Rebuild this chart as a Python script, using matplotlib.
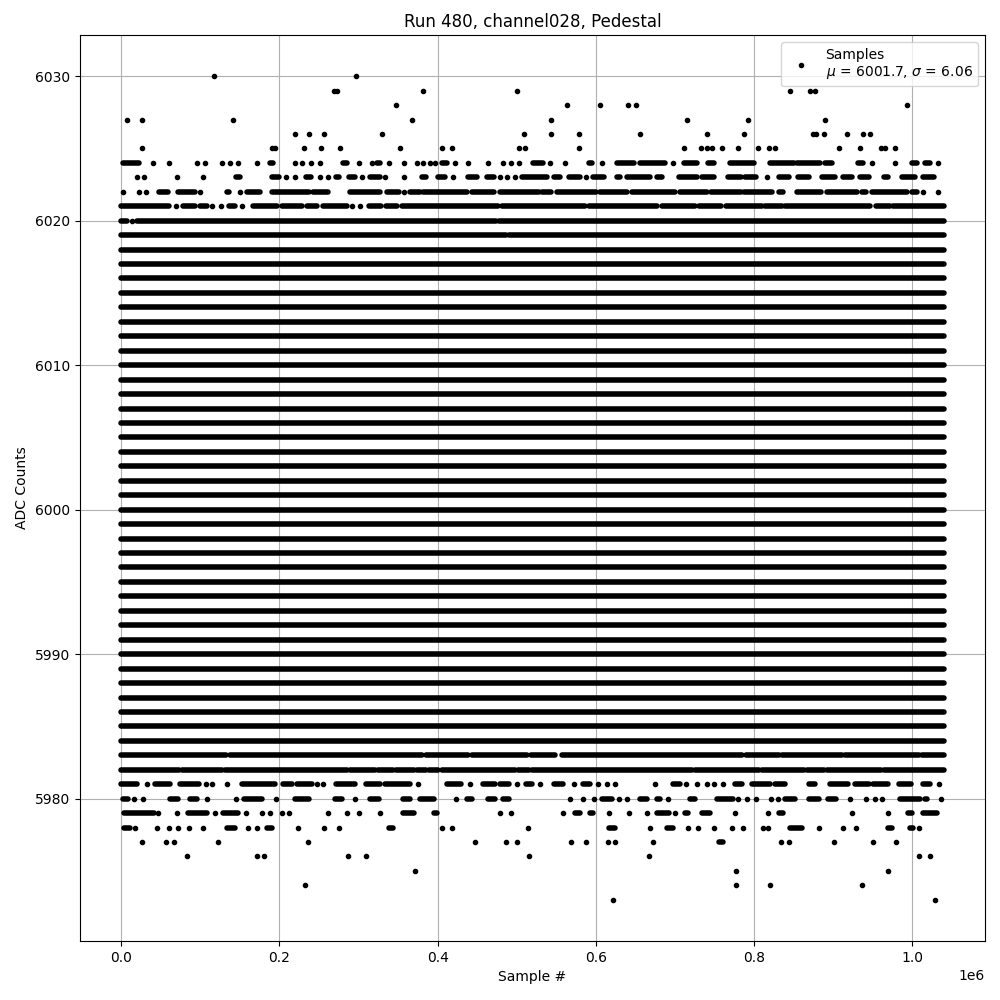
import matplotlib
matplotlib.use("Agg")
import matplotlib.pyplot as plt

# ---------------- data (sample positions in units of 1000 samples) ----------------
SAMPLE_SCALE = 1000
title = "Run 480, channel028, Pedestal"
legend_label = "Samples\n$\\mu$ = 6001.7, $\\sigma$ = 6.06"

# ADC levels that are filled over the whole run
full_levels = [5984, 5985, 5986, 5987, 5988, 5989, 5990, 5991, 5992, 5993, 5994,
               5995, 5996, 5997, 5998, 5999, 6000, 6001, 6002, 6003, 6004, 6005,
               6006, 6007, 6008, 6009, 6010, 6011, 6012, 6013, 6014, 6015, 6016,
               6017, 6018]
full_range = (0, 1040)

# partially filled levels: single samples (number) or dense runs (start, end)
lvl_6030 = [118, 297]
lvl_6029 = [269, 273, 382, 500, 845, 871, 877]
lvl_6028 = [348, 564, 605, 641, 651, 994]
lvl_6027 = [8, 27, 141, 368, 543, 715, 793, 890]
lvl_6026 = [220, 238, 256, 330, 509, 543, 579, 656, 741, 787, 875, 878, 888,
            918, 938, 946]
lvl_6025 = [26, 191, 195, 231, 253, 277, 353, 406, 418, 503, 510, 579, 711,
            733, 741, 747, 760, 780, 805, 819, 827, 907, 934, 960, 965, 978]
lvl_6024 = [(2, 22), 40, 61, 96, 106, 128, 138, 148, 172, (188, 192), 220, 229,
            240, 252, (280, 286), 301, 317, (323, 327), 338, 357, 374, 382, 391,
            397, (405, 412), 422, 438, 464, 483, 493, 503, (520, 533), 542, 561,
            (591, 595), 608, (627, 648), (656, 688), 697, (711, 728), (742, 750),
            (770, 800), (820, 850), (854, 884), (890, 898), (932, 938), 949, 978,
            (1000, 1006), (1016, 1023), 1032]
lvl_6023 = [20, 29, 70, 103, (145, 150), (191, 199), 209, 220, (234, 240), 251,
            261, (271, 276), (288, 296), 304, (315, 327), 333, 357, (380, 386),
            (401, 410), 420, (439, 450), (463, 471), 479, 488, 498, (507, 538),
            (547, 555), (566, 580), 587, (596, 610), (627, 631), (639, 669),
            (678, 684), (705, 728), (734, 749), (767, 783), (789, 802), 817,
            (831, 844), (856, 869), (886, 903), (913, 924), (934, 945), (964, 970),
            (987, 1004), (1014, 1027)]
lvl_6022 = [2, 23, 32, (48, 59), (72, 93), 100, (134, 136), 150, (159, 176),
            (191, 237), (243, 262), (289, 327), (336, 351), 357, (365, 378),
            (382, 437), (443, 471), (479, 528), (532, 544), (551, 600), (605, 640),
            (646, 700), (706, 740), (746, 783), (787, 823), (831, 837), (854, 885),
            (892, 930), (936, 941), (949, 993), (1000, 1006), 1014, 1032]
lvl_6021 = [(0, 60), 69, (78, 94), (100, 108), 115, 126, (136, 144), 153,
            (167, 197), (203, 228), (235, 248), (255, 285), 292, 302, (313, 328),
            (335, 349), (355, 476), (482, 586), (592, 678), (684, 725), (731, 758),
            (764, 810), (814, 835), (839, 947), (954, 972), (976, 1040)]
lvl_6020 = [(0, 7), 14, (20, 474), (478, 1040)]
lvl_6019 = [(0, 487), (490, 1040)]
lvl_5983 = [(0, 133), (137, 380), (385, 439), (444, 513), (518, 549), (557, 785),
            (790, 831), (836, 911), (915, 1008), (1012, 1040)]
lvl_5982 = [(0, 73), (77, 127), (131, 285), (289, 321), (325, 344), (348, 370),
            (374, 385), (389, 401), (405, 498), (502, 515), (519, 721), (725, 806),
            (810, 863), (867, 888), (892, 960), (964, 1040)]
lvl_5981 = [(0, 20), 33, (43, 62), (75, 98), 107, 115, 134, (153, 195),
            (205, 216), (222, 241), 248, 255, (271, 296), (310, 327), (334, 365),
            375, (412, 429), 441, (458, 473), (479, 490), 501, (512, 519), 529,
            (547, 559), 573, (584, 593), 603, 614, 624, 675, (698, 707), 714, 728,
            740, 750, 761, (776, 785), (797, 820), (827, 839), (869, 877),
            (896, 919), (928, 945), (951, 970), (983, 998), (1014, 1023), 1034]
lvl_5980 = [(2, 9), 16, 28, (62, 72), (87, 96), 108, 145, (155, 178), 196,
            (220, 238), (270, 279), 296, (315, 326), (356, 365), (378, 395), 423,
            (437, 443), (464, 473), (483, 490), 567, 584, 598, (608, 620), 629,
            639, (656, 665), (677, 681), 691, (719, 725), (753, 774), 780, 791,
            802, 821, 830, (839, 852), (869, 882), (894, 904), 921, 941, 953, 962,
            (985, 1010), (1016, 1019), 1037]
lvl_5979 = [(3, 41), 47, 70, (85, 108), 119, (129, 148), 158, 178, 188, 203, 212,
            261, 286, 301, 327, (356, 370), (395, 399), 479, 493, 559, (574, 580),
            (593, 597), 617, 642, 665, (678, 692), 700, (713, 717), (734, 745),
            776, 818, (831, 837), 924, 970, (995, 1000), (1014, 1031)]
lvl_5978 = [(4, 11), 18, 45, 61, 72, 86, 104, (134, 144), 160, 172, (184, 191),
            223, 256, 275, (338, 344), 405, 418, 514, (617, 624), 668, (690, 697),
            716, 729, 749, 772, 786, 811, 818, (846, 861), 882, 913, 929,
            (970, 974), (997, 1001), 1008]
lvl_5977 = [27, 57, 67, 122, 236, 447, 486, 500, 569, 588, 615, 624, 672,
            (756, 761), 834, 844, 901, 950, 979]
lvl_5976 = [83, 172, 181, 287, 310, 516, 667, 1009, 1022]
lvl_5975 = [372, 777, 969]
lvl_5974 = [232, 777, 820, 936]
lvl_5973 = [622, 1029]

partial_levels = {
    6030: lvl_6030, 6029: lvl_6029, 6028: lvl_6028, 6027: lvl_6027,
    6026: lvl_6026, 6025: lvl_6025, 6024: lvl_6024, 6023: lvl_6023,
    6022: lvl_6022, 6021: lvl_6021, 6020: lvl_6020, 6019: lvl_6019,
    5983: lvl_5983, 5982: lvl_5982, 5981: lvl_5981, 5980: lvl_5980,
    5979: lvl_5979, 5978: lvl_5978, 5977: lvl_5977, 5976: lvl_5976,
    5975: lvl_5975, 5974: lvl_5974, 5973: lvl_5973,
}

# ---------------- build marks ----------------
dot_x, dot_y = [], []
seg_y, seg_x0, seg_x1 = [], [], []
for lv in full_levels:
    seg_y.append(lv)
    seg_x0.append(full_range[0] * SAMPLE_SCALE)
    seg_x1.append(full_range[1] * SAMPLE_SCALE)
for lv, entries in partial_levels.items():
    for e in entries:
        if isinstance(e, tuple):
            seg_y.append(lv)
            seg_x0.append(e[0] * SAMPLE_SCALE)
            seg_x1.append(e[1] * SAMPLE_SCALE)
        else:
            dot_x.append(e * SAMPLE_SCALE)
            dot_y.append(lv)

fig, ax = plt.subplots(figsize=(10, 10), dpi=100)
fig.subplots_adjust(left=0.08, right=0.985, top=0.965, bottom=0.059)

ax.hlines(seg_y, seg_x0, seg_x1, colors="k", linewidth=4.0, capstyle="round",
          zorder=2)
ax.plot(dot_x, dot_y, "k.", label=legend_label, zorder=2)

ax.set_xlim(-0.052e6, 1.092e6)
ax.set_ylim(5970.15, 6032.85)
ax.set_title(title)
ax.set_xlabel("Sample #")
ax.set_ylabel("ADC Counts")
ax.grid(True)
ax.legend(loc="upper right")

fig.savefig("out.png", dpi=100)
